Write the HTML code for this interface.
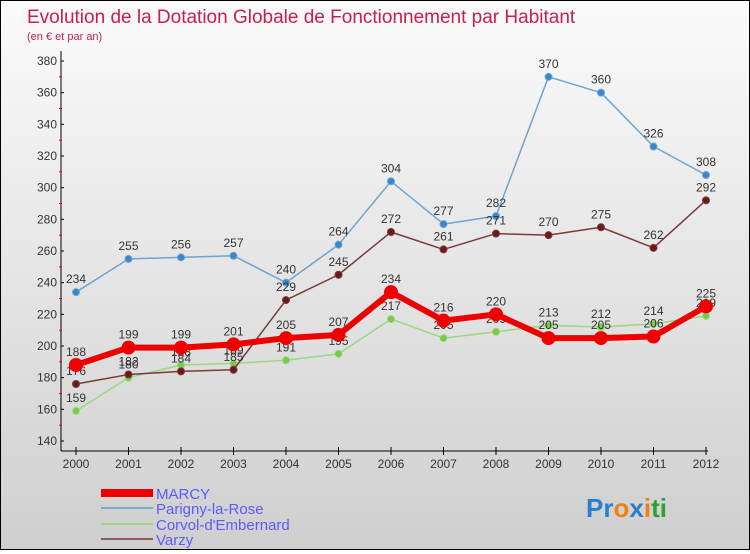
<!DOCTYPE html>
<html><head><meta charset="utf-8"><style>
body{margin:0;width:750px;height:550px;overflow:hidden;font-family:"Liberation Sans",sans-serif}
#wrap{position:relative;width:748px;height:548px;border:1px solid #000;background:linear-gradient(#fbfbfb,#cfcfcf)}
</style></head><body>
<div id="wrap">
<svg id="chart" width="748" height="548" style="font-family:'Liberation Sans',sans-serif">
<text x="26" y="22" font-size="19" fill="#c8204a">Evolution de la Dotation Globale de Fonctionnement par Habitant</text>
<text x="26" y="39" font-size="11" fill="#c8204a">(en € et par an)</text>
<g id="axes"></g><g id="series"></g>
<g>
<rect x="100" y="488" width="52" height="8" fill="#e00"/>
<text x="155" y="498" font-size="15" fill="#5b5bff">MARCY</text>
<rect x="100" y="506" width="52" height="2" fill="#7aaad0"/>
<text x="155" y="513" font-size="15" fill="#5b5bff">Parigny-la-Rose</text>
<rect x="100" y="522" width="52" height="2" fill="#9ad880"/>
<text x="155" y="529" font-size="15" fill="#5b5bff">Corvol-d'Embernard</text>
<rect x="100" y="537" width="52" height="2" fill="#8a5a5a"/>
<text x="155" y="544" font-size="15" fill="#5b5bff">Varzy</text>
</g>
<text x="585" y="516" font-size="26" font-weight="bold"><tspan fill="#2a7fd0">Pr</tspan><tspan fill="#f08010">o</tspan><tspan fill="#2a7fd0">x</tspan><tspan fill="#f08010">i</tspan><tspan fill="#30a030">ti</tspan></text>
</svg></div>
<script>
const years=[2000,2001,2002,2003,2004,2005,2006,2007,2008,2009,2010,2011,2012];
const marcy=[188,199,199,201,205,207,234,216,220,205,205,206,225];
const parigny=[234,255,256,257,240,264,304,277,282,370,360,326,308];
const corvol=[159,180,188,189,191,195,217,205,209,213,212,214,219];
const varzy=[176,182,184,185,229,245,272,261,271,270,275,262,292];
const yTicks=[140,160,180,200,220,240,260,280,300,320,340,360,380];
const NS='http://www.w3.org/2000/svg';
const X=i=>75+i*(705-75)/(years.length-1);
const Y=v=>440-(v-140)*(380/240);
function mk(t,a,p){const e=document.createElementNS(NS,t);for(const k in a)e.setAttribute(k,a[k]);p.appendChild(e);return e;}
const ax=document.getElementById('axes');
let l=mk('line',{x1:60,y1:50,x2:60,y2:450,stroke:'#000'},ax);


l=mk('line',{x1:60,y1:450,x2:707,y2:450,stroke:'#000'},ax);


yTicks.forEach(v=>{
 const t=mk('text',{x:56,y:Y(v)+4,'font-size':12,fill:'#333','text-anchor':'end'},ax);t.textContent=v;
 
 
 mk('line',{x1:60,y1:Y(v),x2:63,y2:Y(v),stroke:'#000'},ax);
 if(v<380)mk('line',{x1:58,y1:Y(v+10),x2:61,y2:Y(v+10),stroke:'#e00'},ax);
});
years.forEach((yr,i)=>{
 mk('line',{x1:X(i),y1:446,x2:X(i),y2:454,stroke:'#000'},ax);
 const t=mk('text',{x:X(i),y:467,'font-size':12,fill:'#333','text-anchor':'middle'},ax);t.textContent=yr;
 
 
});
const sg=document.getElementById('series');
function draw(name,data,color,dot,w,r){
 const g=mk('g',{},sg);
 
 
 mk('polyline',{points:data.map((v,i)=>X(i)+','+Y(v)).join(' '),fill:'none',stroke:color,'stroke-width':w,'stroke-linejoin':'round'},g);
 data.forEach((v,i)=>{
  const c=mk('circle',{cx:X(i),cy:Y(v),r:r,fill:dot,stroke:color,'stroke-width':1},g);
  
  
  const t=mk('text',{x:X(i),y:Y(v)-9,'font-size':12,fill:'#333','text-anchor':'middle'},g);t.textContent=v;
  
  
 });
}
draw('parigny',parigny,'#6ea3d4','#3a86c8',1.5,3.5);
draw('corvol',corvol,'#9ad880','#78cc44',1.5,3.5);
draw('varzy',varzy,'#7a3a3a','#6a1a1a',1.5,3.5);
draw('marcy',marcy,'#e00','#e00',6,6.5);
</script>
</body></html>
